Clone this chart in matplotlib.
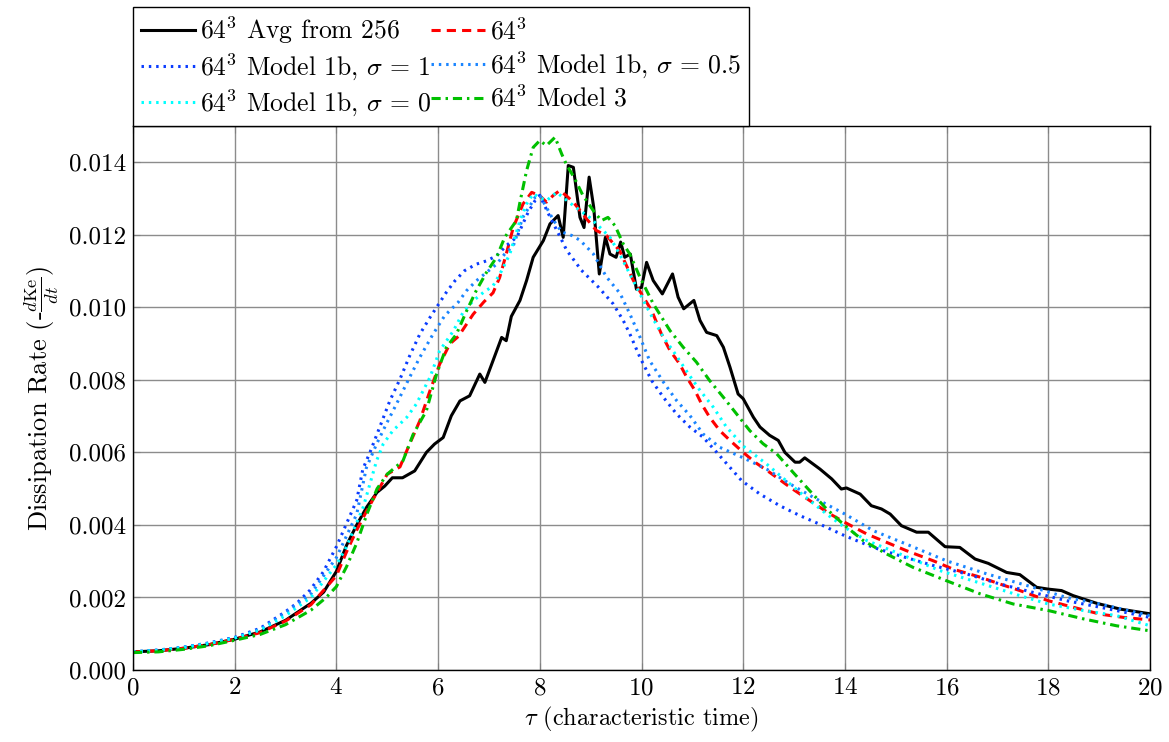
import numpy as np
import matplotlib
matplotlib.use('Agg')
import matplotlib.pyplot as plt
from matplotlib.ticker import FormatStrFormatter, MultipleLocator

plt.rcParams['font.family'] = 'serif'
plt.rcParams['font.serif'] = ['cmr10', 'DejaVu Serif']
plt.rcParams['mathtext.fontset'] = 'cm'
plt.rcParams['axes.formatter.use_mathtext'] = True

# --- data ---
# 64^3 averaged from 256
avg_x = [0, 0.5, 1, 1.5, 2, 2.5, 3, 3.5, 3.75, 4, 4.2, 4.4, 4.6, 4.8, 4.95, 5.1, 5.3, 5.54,
         5.77, 5.93, 6.1, 6.26, 6.43, 6.62, 6.82, 6.92, 7.08, 7.25, 7.34, 7.44, 7.61, 7.74, 7.87,
         8.07, 8.2, 8.36, 8.46, 8.56, 8.66, 8.79, 8.87, 8.97, 9.06, 9.17, 9.29, 9.38, 9.5, 9.59,
         9.67, 9.78, 9.9, 10.0, 10.1, 10.23, 10.41, 10.61, 10.72, 10.83, 11.03, 11.15, 11.28,
         11.48, 11.61, 11.74, 11.9, 12.0, 12.2, 12.33, 12.52, 12.69, 12.82, 13.02, 13.11, 13.21,
         13.51, 13.74, 13.93, 14.03, 14.3, 14.52, 14.72, 14.89, 15.11, 15.41, 15.64, 15.97,
         16.26, 16.56, 16.82, 17.18, 17.44, 17.77, 18.0, 18.26, 18.49, 18.95, 19.41, 20.0]
avg_y = [0.0005, 0.00053, 0.0006, 0.0007, 0.00085, 0.00105, 0.00137, 0.00184, 0.00215,
         0.00272, 0.00344, 0.004, 0.0045, 0.0049, 0.00507, 0.0053, 0.0053, 0.00549, 0.006,
         0.00623, 0.00641, 0.00701, 0.00742, 0.00756, 0.00816, 0.00793, 0.00853, 0.00917,
         0.00908, 0.00975, 0.01019, 0.01074, 0.01138, 0.01184, 0.0123, 0.01253, 0.01193,
         0.01391, 0.01386, 0.01248, 0.0122, 0.01359, 0.01276, 0.01092, 0.01193, 0.01147,
         0.01138, 0.0118, 0.01138, 0.01147, 0.0105, 0.01055, 0.01124, 0.01074, 0.01037,
         0.01092, 0.01028, 0.00996, 0.01019, 0.00964, 0.00931, 0.00922, 0.0089, 0.00835,
         0.00761, 0.00748, 0.00697, 0.0067, 0.00647, 0.00633, 0.006, 0.00573, 0.00573,
         0.00585, 0.00554, 0.00527, 0.00499, 0.00502, 0.00485, 0.00453, 0.00444, 0.0043,
         0.00398, 0.0038, 0.0038, 0.0034, 0.00338, 0.00306, 0.00294, 0.00269, 0.00263,
         0.00228, 0.00223, 0.00219, 0.00205, 0.00184, 0.00168, 0.00155]

# plain 64^3
les_x = [0, 0.5, 1, 1.5, 2, 2.5, 3, 3.5, 4, 4.2, 4.4, 4.6, 4.8, 5.0, 5.25, 5.44, 5.64, 5.84,
         6.03, 6.23, 6.4, 6.69, 6.9, 7.08, 7.21, 7.34, 7.48, 7.67, 7.84, 8.0, 8.13, 8.26, 8.39,
         8.52, 8.66, 8.79, 8.95, 9.11, 9.31, 9.57, 9.84, 10.2, 10.39, 10.56, 10.75, 10.89,
         11.05, 11.18, 11.34, 11.54, 11.74, 12.0, 12.23, 12.52, 12.92, 13.31, 13.71, 14.0,
         14.43, 14.82, 15.21, 15.74, 16.13, 16.66, 17.05, 17.44, 18.0, 18.49, 19.02, 19.48, 20.0]
les_y = [0.0005, 0.00053, 0.0006, 0.0007, 0.00085, 0.00103, 0.00135, 0.0018, 0.0026, 0.00326,
         0.00386, 0.0044, 0.0049, 0.0054, 0.0056, 0.00623, 0.00687, 0.0077, 0.00843, 0.00899,
         0.0092, 0.00981, 0.01015, 0.0104, 0.01082, 0.01147, 0.01221, 0.01285, 0.01317,
         0.01308, 0.0129, 0.01308, 0.01322, 0.01308, 0.0129, 0.01267, 0.01239, 0.01212,
         0.01198, 0.01156, 0.01074, 0.00991, 0.00927, 0.00881, 0.00844, 0.00807, 0.00771,
         0.00734, 0.00697, 0.0066, 0.00633, 0.006, 0.00573, 0.00545, 0.00504, 0.00467, 0.0043,
         0.00407, 0.00375, 0.00352, 0.00329, 0.00301, 0.00278, 0.00256, 0.00237, 0.00219,
         0.00191, 0.00173, 0.00154, 0.00145, 0.00138]

# Model 1b, sigma = 1
m1_x = [0, 0.5, 1, 1.5, 2, 2.5, 2.99, 3.22, 3.48, 3.74, 4.0, 4.2, 4.4, 4.52, 4.66, 4.85, 5.05,
        5.25, 5.44, 5.64, 5.84, 6.03, 6.16, 6.33, 6.52, 6.75, 6.95, 7.15, 7.34, 7.55, 7.77,
        7.91, 8.0, 8.17, 8.4, 8.53, 8.82, 9.15, 9.44, 9.64, 9.77, 9.97, 10.2, 10.43, 10.69,
        10.95, 11.21, 11.48, 11.97, 12.33, 12.72, 13.11, 13.57, 14.0, 14.56, 15.08, 15.74,
        16.39, 17.05, 17.7, 18.36, 19.02, 20.0]
m1_y = [0.0005, 0.00055, 0.00063, 0.00075, 0.0009, 0.00115, 0.0016, 0.00184, 0.0022, 0.0027,
        0.0034, 0.00404, 0.00468, 0.00554, 0.006, 0.00669, 0.00742, 0.00802, 0.00866,
        0.00926, 0.00972, 0.01013, 0.01041, 0.01073, 0.01101, 0.01119, 0.01128, 0.01142,
        0.0117, 0.01194, 0.01262, 0.01295, 0.01309, 0.01258, 0.01194, 0.01157, 0.01102,
        0.01056, 0.0101, 0.00964, 0.00927, 0.00862, 0.00798, 0.00752, 0.00706, 0.0067,
        0.00642, 0.006, 0.00522, 0.00485, 0.00453, 0.00426, 0.00398, 0.0037, 0.00338,
        0.00315, 0.00288, 0.00265, 0.00237, 0.00214, 0.00191, 0.00173, 0.00145]

# Model 1b, sigma = 0.5
m05_x = [0, 0.5, 1, 1.5, 2, 2.5, 3, 3.5, 4, 4.2, 4.4, 4.59, 4.79, 4.98, 5.18, 5.44, 5.64, 5.9,
         6.13, 6.39, 6.56, 6.75, 6.95, 7.15, 7.31, 7.48, 7.67, 7.91, 8.0, 8.27, 8.43, 8.63,
         8.79, 9.05, 9.31, 9.58, 9.77, 9.97, 10.16, 10.43, 10.69, 10.95, 11.21, 11.54, 12.0,
         12.46, 12.92, 13.38, 14.0, 14.56, 15.21, 16.0, 16.79, 17.7, 18.36, 19.02, 20.0]
m05_y = [0.0005, 0.00055, 0.00063, 0.00074, 0.00089, 0.00112, 0.00158, 0.0021, 0.0031,
         0.0037, 0.0043, 0.00558, 0.00623, 0.00678, 0.00733, 0.00807, 0.00862, 0.00926,
         0.00977, 0.01013, 0.01046, 0.01073, 0.01096, 0.01119, 0.01147, 0.0117, 0.01249,
         0.01304, 0.01309, 0.0124, 0.01208, 0.01198, 0.01185, 0.01148, 0.01084, 0.01038,
         0.00982, 0.00918, 0.00853, 0.00794, 0.00743, 0.00702, 0.00651, 0.00614, 0.00585,
         0.00554, 0.00513, 0.00476, 0.0043, 0.00384, 0.00347, 0.00301, 0.00265, 0.00228,
         0.002, 0.00182, 0.0015]

# Model 1b, sigma = 0
m0_x = [0, 0.5, 1, 1.5, 2, 2.5, 3, 3.5, 4, 4.2, 4.53, 4.79, 4.92, 5.11, 5.38, 5.57, 5.84,
        6.03, 6.3, 6.49, 6.69, 6.89, 7.08, 7.25, 7.41, 7.61, 7.74, 7.87, 8.0, 8.13, 8.33, 8.46,
        8.62, 8.79, 8.98, 9.18, 9.38, 9.57, 9.77, 10.07, 10.23, 10.43, 10.66, 10.92, 11.15,
        11.41, 11.67, 12.03, 12.46, 12.92, 13.31, 13.64, 14.0, 14.43, 15.08, 15.87, 16.72,
        17.44, 18.0, 18.69, 19.34, 20.0]
m0_y = [0.0005, 0.00054, 0.00062, 0.00073, 0.00088, 0.0011, 0.0015, 0.002, 0.0029, 0.0034,
        0.0045, 0.00577, 0.00623, 0.0066, 0.00696, 0.00733, 0.00807, 0.0088, 0.00935,
        0.00986, 0.01018, 0.01041, 0.01059, 0.01101, 0.01147, 0.01239, 0.01285, 0.01313,
        0.01303, 0.01294, 0.01317, 0.01303, 0.01285, 0.01267, 0.01248, 0.01221, 0.01193,
        0.01147, 0.01092, 0.0101, 0.00968, 0.00918, 0.00872, 0.00817, 0.00771, 0.00725,
        0.0067, 0.00614, 0.00568, 0.00513, 0.00467, 0.0043, 0.00393, 0.00357, 0.0032,
        0.00274, 0.00237, 0.00205, 0.00182, 0.00164, 0.0015, 0.00122]

# Model 3
m3_x = [0, 0.5, 1, 1.5, 2, 2.5, 3, 3.5, 3.8, 4.0, 4.2, 4.4, 4.6, 4.8, 5.0, 5.31, 5.51, 5.77,
        5.97, 6.16, 6.36, 6.56, 6.75, 6.95, 7.15, 7.31, 7.54, 7.61, 7.74, 7.87, 8.0, 8.13,
        8.3, 8.43, 8.52, 8.69, 8.85, 9.05, 9.21, 9.34, 9.48, 9.64, 9.77, 9.97, 10.23, 10.56,
        10.82, 11.08, 11.34, 11.61, 11.87, 12.13, 12.39, 12.66, 12.98, 13.31, 13.64, 14.0,
        14.36, 14.82, 15.34, 16.0, 16.66, 17.31, 18.0, 18.69, 19.34, 20.0]
m3_y = [0.00048, 0.0005, 0.00057, 0.00067, 0.00082, 0.00098, 0.00125, 0.00165, 0.002, 0.0023,
        0.00285, 0.0035, 0.0043, 0.005, 0.0054, 0.00577, 0.0065, 0.00715, 0.00816, 0.00889,
        0.00926, 0.0099, 0.01046, 0.01096, 0.01138, 0.01193, 0.01239, 0.0129, 0.01377,
        0.01441, 0.0146, 0.01446, 0.01469, 0.01423, 0.01395, 0.01354, 0.01308, 0.01267,
        0.01239, 0.01248, 0.01225, 0.01175, 0.01147, 0.01083, 0.0101, 0.00936, 0.0089,
        0.00849, 0.00798, 0.00752, 0.00706, 0.0066, 0.00624, 0.00596, 0.00545, 0.00494,
        0.00444, 0.00398, 0.00357, 0.0032, 0.00283, 0.00246, 0.0021, 0.00182, 0.00164,
        0.00141, 0.00122, 0.00108]

fig = plt.figure(figsize=(11.69, 7.42), dpi=100)
ax = fig.add_axes([133 / 1169, 72 / 742, 1017 / 1169, 544 / 742])

lw = 2.2
h_avg, = ax.plot(avg_x, avg_y, color='black', lw=lw, label=r'$64^3$ Avg from 256')
h_les, = ax.plot(les_x, les_y, color='#ff0000', lw=lw, ls=(0, (3, 2)), label=r'$64^3$')
h_m1, = ax.plot(m1_x, m1_y, color='#0a3cff', lw=lw, ls=(0, (0.8, 1.6)),
                label=r'$64^3$ Model 1b, $\sigma\,=\,1$')
h_m05, = ax.plot(m05_x, m05_y, color='#1a85ff', lw=lw, ls=(0, (0.8, 1.6)),
                 label=r'$64^3$ Model 1b, $\sigma\,=\,0.5$')
h_m0, = ax.plot(m0_x, m0_y, color='#00ffff', lw=lw, ls=(0, (0.8, 1.6)),
                label=r'$64^3$ Model 1b, $\sigma\,=\,0$')
h_m3, = ax.plot(m3_x, m3_y, color='#00c000', lw=lw, ls=(0, (3, 1.6, 0.8, 1.6)),
                label=r'$64^3$ Model 3')

ax.set_xlim(0, 20)
ax.set_ylim(0, 0.015)
ax.xaxis.set_major_locator(MultipleLocator(2))
ax.set_yticks(np.arange(0, 0.0141, 0.002))
ax.yaxis.set_major_formatter(FormatStrFormatter('%.3f'))
ax.grid(True, color='#8c8c8c', lw=1.0)
ax.set_axisbelow(True)
ax.tick_params(direction='in', top=True, right=True, labelsize=18, length=5,
               color='#808080', pad=5)
for sp in ax.spines.values():
    sp.set_linewidth(1.0)

ax.set_xlabel(r'$\tau$ (characteristic time)', fontsize=17.5, labelpad=4)
ax.set_ylabel(r'Dissipation Rate (-$\frac{d\mathrm{Ke}}{dt}$)', fontsize=19, labelpad=6)

leg = ax.legend(handles=[h_avg, h_m1, h_m0, h_les, h_m05, h_m3], ncol=2,
                loc='lower left', bbox_to_anchor=(0, 1), borderaxespad=0,
                fontsize=18.5, fancybox=False, framealpha=1, edgecolor='black',
                handlelength=2.1, handletextpad=0.2, columnspacing=0.0,
                labelspacing=0.2, borderpad=0.3)
leg.get_frame().set_linewidth(1.0)

fig.savefig('out.png', dpi=100)
